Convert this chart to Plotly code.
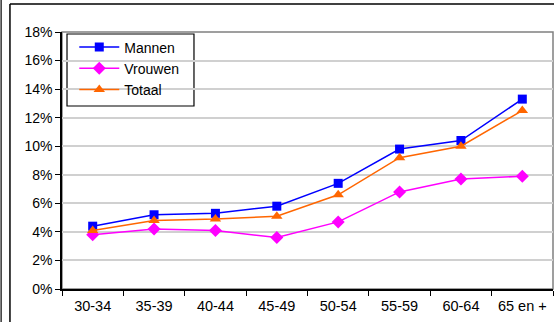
import plotly.graph_objects as go

categories = ["30-34", "35-39", "40-44", "45-49", "50-54", "55-59", "60-64", "65 en +"]
mannen = [4.4, 5.2, 5.3, 5.8, 7.4, 9.8, 10.4, 13.3]
vrouwen = [3.8, 4.2, 4.1, 3.6, 4.7, 6.8, 7.7, 7.9]
totaal = [4.1, 4.8, 4.9, 5.1, 6.6, 9.2, 10.0, 12.5]
y_ticks = [0, 2, 4, 6, 8, 10, 12, 14, 16, 18]

fig = go.Figure()

fig.add_scatter(x=categories, y=mannen, name="Mannen", mode="lines+markers",
                legendgroup="m", line=dict(color="#0000ff", width=1.5),
                marker=dict(symbol="square", size=9, color="#0000ff"))
fig.add_scatter(x=categories, y=vrouwen, name="Vrouwen", mode="lines+markers",
                legendgroup="v", line=dict(color="#ff00ff", width=1.5),
                marker=dict(symbol="diamond", size=10, color="#ff00ff"))
fig.add_scatter(x=categories, y=totaal, name="Totaal", mode="lines+markers",
                legendgroup="t", line=dict(color="#ff6600", width=1.5),
                marker=dict(symbol="triangle-up", size=10, color="#ff6600"))

# plot area frame (gray), and the outer chart frame (black)
fig.add_shape(type="rect", xref="paper", yref="paper", x0=0, x1=1, y0=0, y1=1,
              line=dict(color="#808080", width=1.5), layer="below")
fig.add_shape(type="line", xref="paper", yref="paper", x0=-0.106, x1=-0.106, y0=-0.2, y1=1.109,
              line=dict(color="black", width=1.5))
fig.add_shape(type="line", xref="paper", yref="paper", x0=-0.106, x1=1.02, y0=1.109, y1=1.109,
              line=dict(color="black", width=1.5))
fig.add_shape(type="line", xref="paper", yref="paper", x0=-0.124, x1=-0.124, y0=-0.2, y1=1.2,
              line=dict(color="black", width=1.2))
# legend box (wider than plotly's own legend frame)
fig.add_shape(type="rect", xref="paper", yref="paper", x0=0.0102, x1=0.2688, y0=0.712, y1=0.9922,
              line=dict(color="black", width=1.2), fillcolor="white", layer="between")

fig.update_layout(
    width=554, height=322,
    margin=dict(l=62, r=1, t=32, b=33),
    paper_bgcolor="white", plot_bgcolor="white",
    font=dict(family="Liberation Sans, Arial", size=13, color="black"),
    showlegend=True,
    legend=dict(x=0.025, y=1.002, xanchor="left", yanchor="top",
                borderwidth=0, bgcolor="rgba(0,0,0,0)",
                font=dict(size=14), traceorder="grouped", tracegroupgap=0,
                itemwidth=40),
)
fig.update_xaxes(type="category", tickson="boundaries", ticks="outside", ticklen=5,
                 tickcolor="black", showline=True, linecolor="black", linewidth=1.5,
                 showgrid=False, range=[-0.5, 7.5], tickfont=dict(size=14.5),
                 ticklabelstandoff=3)
fig.update_yaxes(range=[0, 18], tickvals=y_ticks, ticktext=[f"{v}%" for v in y_ticks],
                 ticks="outside", ticklen=5, tickcolor="black", showline=True,
                 linecolor="black", linewidth=1.5, gridcolor="#d0d0d0", gridwidth=1.5,
                 zeroline=False, tickfont=dict(size=14))

# drop the page margin so the figure sits at the window corner
fig.write_html("out.html", config={"displayModeBar": False},
               post_script="document.body.style.margin='0';")
